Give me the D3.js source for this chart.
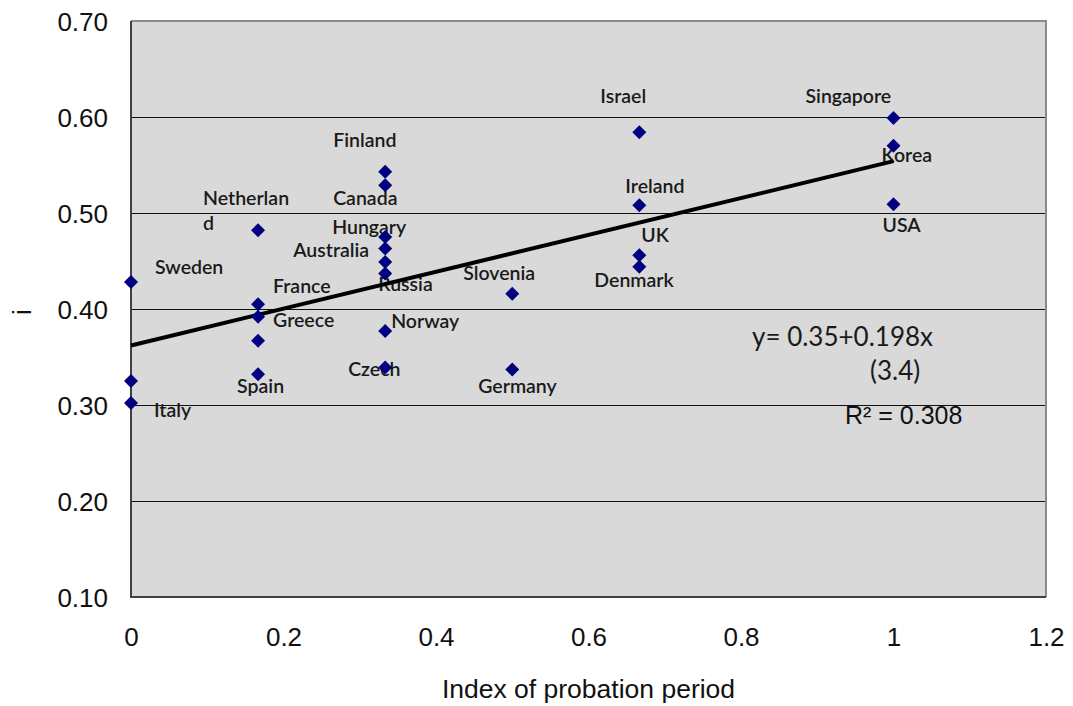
<!DOCTYPE html>
<html>
<head>
<meta charset="utf-8">
<script src="https://cdn.jsdelivr.net/npm/d3@7"></script>
<style>
  body { margin: 0; background: #fff; }
  svg { display: block; }
</style>
</head>
<body>
<svg id="chart"></svg>
<script>

// country names and values
let countries = ["Sweden", "", "Italy",
                 "Netherlan\nd", "France", "Greece", "", "Spain",
                 "Finland", "Canada", "Hungary", "Australia", "", "Russia", "Norway", "Czech",
                 "Slovenia", "Germany",
                 "Israel", "Ireland", "UK", "Denmark",
                 "Singapore", "Korea", "USA"]
let probation = [0, 0, 0,
                 1/6, 1/6, 1/6, 1/6, 1/6,
                 1/3, 1/3, 1/3, 1/3, 1/3, 1/3, 1/3, 1/3,
                 0.5, 0.5,
                 2/3, 2/3, 2/3, 2/3,
                 1, 1, 1]
let index_i = [0.428, 0.325, 0.302,
               0.482, 0.405, 0.392, 0.367, 0.332,
               0.543, 0.529, 0.475, 0.463, 0.449, 0.437, 0.377, 0.339,
               0.416, 0.337,
               0.584, 0.508, 0.456, 0.444,
               0.599, 0.570, 0.509]

let xTicks = [0, 0.2, 0.4, 0.6, 0.8, 1, 1.2]
let xTickLabels = ["0", "0.2", "0.4", "0.6", "0.8", "1", "1.2"]
let yTicks = [0.1, 0.2, 0.3, 0.4, 0.5, 0.6, 0.7]
let yTickLabels = ["0.10", "0.20", "0.30", "0.40", "0.50", "0.60", "0.70"]

// fitted line as drawn (start value and slope)
let trendIntercept = 0.362
let trendSlope = 0.192

// where each label sits relative to its point (px)
let labelOffset = {
  "Sweden": [24, -8], "Italy": [23, 14],
  "Netherlan\nd": [-55, -25], "France": [15, -11], "Greece": [15, 10], "Spain": [-21, 19],
  "Finland": [-52, -25], "Canada": [-52, 20], "Hungary": [-53, -3], "Australia": [-92, 8],
  "Russia": [-7, 18], "Norway": [6, -3], "Czech": [-37, 8],
  "Slovenia": [-49, -14], "Germany": [-34, 24],
  "Israel": [-39, -29], "Ireland": [-14, -12], "UK": [2, -13], "Denmark": [-45, 20],
  "Singapore": [-88, -15], "Korea": [-12, 16], "USA": [-11, 28]
}

function getConfig() {
  let width = 1073
  let height = 706
  let margin = { top: 21, left: 131, right: 27, bottom: 109 }
  let bodyWidth = width - margin.left - margin.right
  let bodyHeight = height - margin.top - margin.bottom
  let container = d3.select("#chart")
    .attr("width", width)
    .attr("height", height)
  return { width, height, margin, bodyWidth, bodyHeight, container }
}

function getScales(config) {
  let { bodyWidth, bodyHeight } = config
  let xScale = d3.scaleLinear().domain([0, 1.2]).range([0, bodyWidth])
  let yScale = d3.scaleLinear().domain([0.1, 0.7]).range([bodyHeight, 0])
  return { xScale, yScale }
}

function drawChart() {
  let config = getConfig()
  let { margin, bodyWidth, bodyHeight, container } = config
  let { xScale, yScale } = getScales(config)

  let body = container.append("g")
    .attr("transform", `translate(${margin.left},${margin.top})`)

  // grey plot area
  body.append("rect")
    .attr("width", bodyWidth)
    .attr("height", bodyHeight)
    .attr("fill", "#d9d9d9")

  // horizontal gridlines
  body.append("g")
    .selectAll("line")
    .data(yTicks.slice(1, -1))
    .enter()
    .append("line")
      .attr("x1", 0)
      .attr("x2", bodyWidth)
      .attr("y1", d => yScale(d) + 0.5)
      .attr("y2", d => yScale(d) + 0.5)
      .attr("stroke", "#111")
      .attr("stroke-width", 1.2)

  // frame: top/right lighter, left/bottom darker
  body.append("path")
    .attr("d", `M0,0H${bodyWidth}V${bodyHeight}`)
    .attr("fill", "none")
    .attr("stroke", "#8a8a8a")
    .attr("stroke-width", 2)
  body.append("path")
    .attr("d", `M0,0V${bodyHeight}H${bodyWidth}`)
    .attr("fill", "none")
    .attr("stroke", "#404040")
    .attr("stroke-width", 2)

  // axes (text only, Excel style)
  let yAxis = d3.axisLeft(yScale)
    .tickValues(yTicks)
    .tickFormat((d, i) => yTickLabels[i])
    .tickSize(0)
    .tickPadding(23)
  body.append("g")
    .attr("class", "leftaxis")
    .call(yAxis)
    .call(g => g.select(".domain").remove())
    .selectAll("text")
      .attr("font-family", "'Liberation Sans', Arial, sans-serif")
      .attr("font-size", 26)
      .attr("fill", "#111")
      .attr("dy", "0.36em")

  let xAxis = d3.axisBottom(xScale)
    .tickValues(xTicks)
    .tickFormat((d, i) => xTickLabels[i])
    .tickSize(0)
    .tickPadding(31)
  body.append("g")
    .attr("class", "bottomaxis")
    .attr("transform", `translate(0,${bodyHeight})`)
    .call(xAxis)
    .call(g => g.select(".domain").remove())
    .selectAll("text")
      .attr("font-family", "'Liberation Sans', Arial, sans-serif")
      .attr("font-size", 26)
      .attr("fill", "#111")
      .attr("dy", "0.71em")

  // axis titles
  container.append("text")
    .attr("x", margin.left + xScale(0.6))
    .attr("y", 698)
    .attr("text-anchor", "middle")
    .attr("font-family", "'Liberation Sans', Arial, sans-serif")
    .attr("font-size", 26.5)
    .attr("fill", "#111")
    .text("Index of probation period")

  container.append("text")
    .attr("transform", "translate(31,312) rotate(-90)")
    .attr("text-anchor", "middle")
    .attr("font-family", "'Liberation Sans', Arial, sans-serif")
    .attr("font-size", 26)
    .attr("fill", "#111")
    .text("i")

  let points = countries.map((c, i) => ({ name: c, x: probation[i], y: index_i[i] }))

  // country labels
  let labels = body.append("g")
    .selectAll("text")
    .data(points.filter(d => d.name !== ""))
    .enter()
    .append("text")
      .attr("x", d => xScale(d.x) + labelOffset[d.name][0])
      .attr("y", d => yScale(d.y) + labelOffset[d.name][1])
      .attr("font-family", "Lato, sans-serif")
      .attr("font-size", 19.5)
      .attr("font-weight", 600)
      .attr("fill", "#1a1a1a")
  labels.each(function(d) {
    let lines = d.name.split("\n")
    d3.select(this).selectAll("tspan")
      .data(lines)
      .enter()
      .append("tspan")
        .attr("x", xScale(d.x) + labelOffset[d.name][0])
        .attr("dy", (l, j) => j === 0 ? 0 : 25)
        .text(l => l)
  })

  // trend line
  let xMax = d3.max(probation)
  let line = d3.line()
    .x(d => xScale(d))
    .y(d => yScale(trendIntercept + trendSlope * d))
  body.append("path")
    .datum([0, xMax])
    .attr("d", line)
    .attr("fill", "none")
    .attr("stroke", "#000")
    .attr("stroke-width", 4)

  // diamond markers
  body.append("g")
    .selectAll("path")
    .data(points)
    .enter()
    .append("path")
      .attr("transform", d => `translate(${xScale(d.x)},${yScale(d.y)})`)
      .attr("d", "M0,-7L7,0L0,7L-7,0Z")
      .attr("fill", "#000080")

  // regression note
  let noteX = xScale(0.8)
  body.append("text")
    .attr("x", noteX + 11)
    .attr("y", yScale(0.35) - 11)
    .attr("font-family", "Lato, sans-serif")
    .attr("font-size", 26)
    .attr("fill", "#1a1a1a")
    .text("y= 0.35+0.198x")
  body.append("text")
    .attr("x", noteX + 129)
    .attr("y", yScale(0.35) + 23)
    .attr("font-family", "Lato, sans-serif")
    .attr("font-size", 26)
    .attr("fill", "#1a1a1a")
    .text("(3.4)")
  body.append("text")
    .attr("x", noteX + 104)
    .attr("y", yScale(0.3) + 19)
    .attr("font-family", "'Liberation Sans', Arial, sans-serif")
    .attr("font-size", 25)
    .attr("fill", "#111")
    .text("R² = 0.308")
}

drawChart()
</script>
</body>
</html>
